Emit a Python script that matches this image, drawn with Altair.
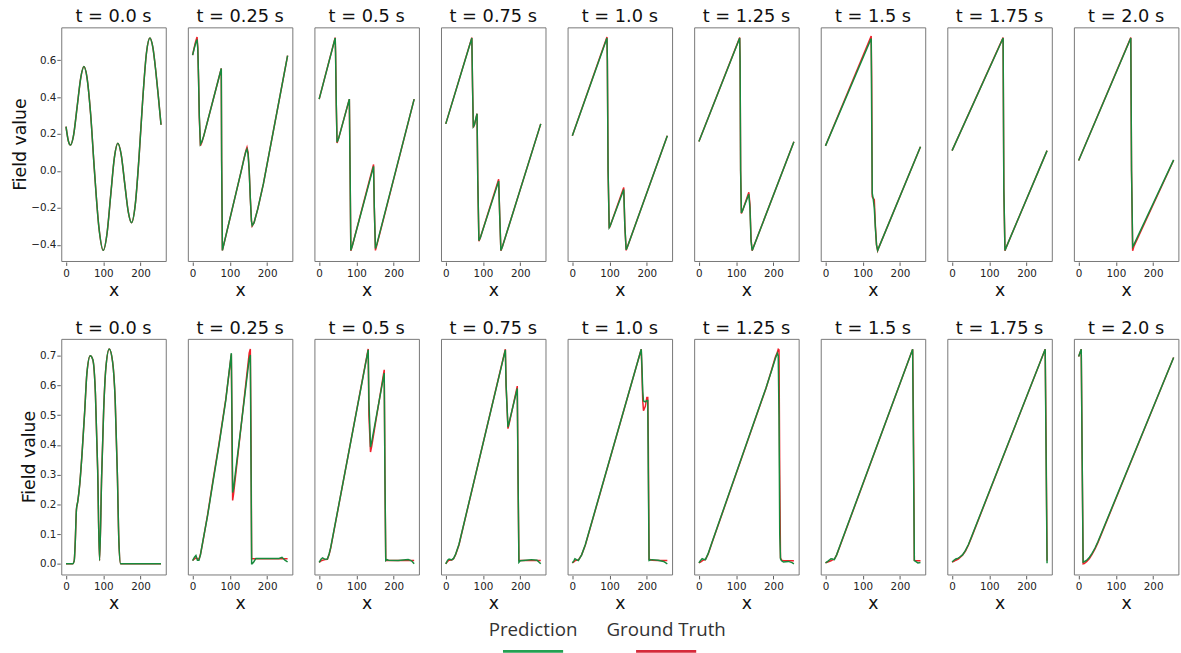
import altair as alt
import pandas as pd

# ---------------- data ----------------
TIMES = ["0.0", "0.25", "0.5", "0.75", "1.0", "1.25", "1.5", "1.75", "2.0"]

# ---- top row ----
top_00_x = [0, 6, 12, 20, 30, 40, 48, 56, 66, 76, 88, 100, 110, 120, 130, 139, 148, 158, 167, 176, 186, 196, 206, 216, 225, 233, 241, 248, 255]
top_00_pred = [0.24, 0.165, 0.14, 0.19, 0.35, 0.51, 0.565, 0.51, 0.31, 0.01, -0.30, -0.43, -0.34, -0.13, 0.075, 0.15, 0.09, -0.075, -0.22, -0.28, -0.18, 0.075, 0.39, 0.64, 0.72, 0.67, 0.54, 0.40, 0.25]
top_00_true = list(top_00_pred)

top_025_x = [0, 4, 8, 12, 14, 16, 18, 21, 25, 30, 77, 78, 80, 130, 138, 143, 146, 149, 152, 155, 158, 160, 165, 175, 190, 255]
top_025_pred = [0.627, 0.66, 0.69, 0.712, 0.66, 0.5, 0.3, 0.145, 0.16, 0.19, 0.555, 0.05, -0.43, -0.005, 0.065, 0.105, 0.118, 0.09, 0.0, -0.15, -0.27, -0.295, -0.28, -0.205, -0.07, 0.625]
top_025_true = [0.627, 0.665, 0.70, 0.725, 0.67, 0.5, 0.29, 0.137, 0.155, 0.19, 0.555, 0.05, -0.43, -0.005, 0.068, 0.11, 0.128, 0.10, 0.0, -0.15, -0.27, -0.298, -0.28, -0.205, -0.07, 0.625]

top_05_x = [0, 43, 44, 46, 48, 52, 81, 83, 85, 89, 146, 148, 151, 155, 255]
top_05_pred = [0.389, 0.72, 0.64, 0.35, 0.155, 0.175, 0.389, 0.0, -0.43, -0.405, 0.025, -0.2, -0.42, -0.395, 0.389]
top_05_true = [0.389, 0.722, 0.64, 0.35, 0.152, 0.175, 0.389, 0.0, -0.432, -0.405, 0.035, -0.2, -0.43, -0.40, 0.389]

top_075_x = [0, 70, 72, 74, 77, 84, 86, 89, 93, 142, 145, 148, 152, 255]
top_075_pred = [0.255, 0.72, 0.45, 0.24, 0.25, 0.31, -0.05, -0.377, -0.36, -0.055, -0.25, -0.43, -0.41, 0.255]
top_075_true = [0.255, 0.722, 0.45, 0.235, 0.25, 0.31, -0.05, -0.38, -0.36, -0.045, -0.25, -0.432, -0.41, 0.255]

top_10_x = [0, 93, 94, 96, 99, 102, 138, 141, 144.5, 148, 255]
top_10_pred = [0.19, 0.72, 0.6, 0.0, -0.306, -0.295, -0.10, -0.3, -0.427, -0.41, 0.19]
top_10_true = [0.19, 0.725, 0.6, 0.0, -0.31, -0.295, -0.09, -0.3, -0.43, -0.41, 0.19]

top_125_x = [0, 109.5, 110.5, 112, 114, 117, 134, 137, 140, 143, 146, 255]
top_125_pred = [0.159, 0.72, 0.6, 0.0, -0.227, -0.215, -0.126, -0.2, -0.38, -0.43, -0.415, 0.158]
top_125_true = [0.159, 0.722, 0.6, 0.0, -0.23, -0.215, -0.115, -0.18, -0.37, -0.432, -0.415, 0.158]

top_15_x = [0, 122.7, 124, 125.5, 128, 131, 134, 137, 140, 143, 255]
top_15_pred = [0.136, 0.717, 0.3, -0.12, -0.15, -0.2, -0.31, -0.40, -0.43, -0.415, 0.131]
top_15_true = [0.136, 0.73, 0.5, -0.14, -0.148, -0.155, -0.3, -0.40, -0.432, -0.415, 0.131]

top_175_x = [0, 137, 139, 142, 145, 255]
top_175_pred = [0.11, 0.72, -0.1, -0.43, -0.415, 0.11]
top_175_true = [0.11, 0.722, -0.1, -0.432, -0.415, 0.11]

top_20_x = [0, 140, 142, 145, 148, 255]
top_20_pred = [0.057, 0.72, 0.0, -0.41, -0.40, 0.06]
top_20_true = [0.057, 0.722, 0.0, -0.432, -0.41, 0.058]

# ---- bottom row ----
bot_00_x = [0, 18, 22, 25, 28, 31.6, 37, 43, 50, 56, 65, 72, 79, 85, 90, 95.6, 101, 107, 116, 125, 132, 138, 142, 146.5, 150, 255]
bot_00_pred = [0, 0, 0.01, 0.08, 0.183, 0.21, 0.27, 0.37, 0.51, 0.64, 0.70, 0.687, 0.57, 0.315, 0.011, 0.293, 0.515, 0.66, 0.723, 0.68, 0.55, 0.293, 0.072, 0.0, 0, 0]
bot_00_true = list(bot_00_pred)

bot_025_x = [0, 5, 9, 13, 17, 21, 27, 40, 54, 71, 89, 104, 106, 107.5, 110, 152, 155, 157, 158.5, 160, 164, 170, 232, 240, 248, 255]
bot_025_pred = [0.011, 0.022, 0.028, 0.012, 0.012, 0.03, 0.072, 0.16, 0.27, 0.40, 0.55, 0.709, 0.45, 0.24, 0.255, 0.69, 0.703, 0.3, 0.0, 0.0, 0.006, 0.018, 0.018, 0.022, 0.012, 0.006]
bot_025_true = [0.011, 0.016, 0.02, 0.017, 0.016, 0.03, 0.07, 0.163, 0.275, 0.405, 0.553, 0.705, 0.4, 0.213, 0.235, 0.71, 0.723, 0.4, 0.017, 0.017, 0.017, 0.017, 0.017, 0.017, 0.017, 0.017]

bot_05_x = [0, 5, 9, 16, 22, 26.7, 31, 131.6, 133.5, 137.8, 141, 174.6, 176.5, 178.7, 182, 186, 212, 239, 248, 255]
bot_05_pred = [0.005, 0.015, 0.02, 0.015, 0.016, 0.033, 0.055, 0.72, 0.55, 0.393, 0.41, 0.642, 0.3, 0.011, 0.014, 0.012, 0.011, 0.014, 0.01, 0.0]
bot_05_true = [0.005, 0.01, 0.012, 0.014, 0.015, 0.031, 0.053, 0.723, 0.5, 0.376, 0.395, 0.653, 0.3, 0.011, 0.011, 0.011, 0.011, 0.011, 0.011, 0.011]

bot_075_x = [0, 5, 9, 16, 21, 26.7, 35.6, 160, 162, 167, 170, 192, 194, 196.4, 200, 215, 230, 245, 255]
bot_075_pred = [0.0, 0.012, 0.016, 0.013, 0.018, 0.033, 0.066, 0.72, 0.6, 0.46, 0.475, 0.59, 0.3, 0.005, 0.01, 0.012, 0.014, 0.012, 0.0]
bot_075_true = [0.0, 0.008, 0.012, 0.013, 0.017, 0.031, 0.064, 0.722, 0.6, 0.455, 0.47, 0.598, 0.3, 0.011, 0.011, 0.011, 0.011, 0.011, 0.011]

bot_10_x = [0, 4, 7, 11, 16, 25, 35, 185, 187, 189, 191, 196, 200, 202.5, 204, 206, 214, 230, 245, 252, 255]
bot_10_pred = [0.003, 0.01, 0.017, 0.014, 0.011, 0.03, 0.065, 0.722, 0.66, 0.58, 0.548, 0.545, 0.55, 0.55, 0.3, 0.011, 0.014, 0.012, 0.008, 0.002, 0.0]
bot_10_true = [0.003, 0.006, 0.01, 0.012, 0.012, 0.03, 0.063, 0.722, 0.64, 0.55, 0.515, 0.53, 0.56, 0.56, 0.4, 0.015, 0.012, 0.011, 0.011, 0.011, 0.011]

bot_125_x = [0, 4, 8.8, 13, 17.5, 25, 35, 180, 195, 205, 210.5, 213, 215, 217, 219, 222, 227, 240, 250, 255]
bot_125_pred = [0.003, 0.01, 0.017, 0.015, 0.014, 0.035, 0.072, 0.592, 0.65, 0.69, 0.709, 0.7, 0.5, 0.1, 0.017, 0.01, 0.006, 0.008, 0.004, 0.0]
bot_125_true = [0.003, 0.006, 0.01, 0.013, 0.014, 0.033, 0.07, 0.59, 0.652, 0.695, 0.712, 0.722, 0.72, 0.3, 0.02, 0.012, 0.01, 0.01, 0.01, 0.01]

bot_15_x = [0, 6, 14.8, 19, 23.6, 30, 40, 234, 236, 238.5, 242, 248, 255]
bot_15_pred = [0.003, 0.008, 0.017, 0.016, 0.014, 0.03, 0.065, 0.722, 0.4, 0.011, 0.008, 0.003, 0.004]
bot_15_true = [0.003, 0.006, 0.01, 0.013, 0.015, 0.03, 0.063, 0.722, 0.5, 0.012, 0.01, 0.01, 0.01]

bot_175_x = [0, 5, 10, 16.6, 20, 28, 36, 44, 52, 250, 252.5, 255]
bot_175_pred = [0.006, 0.012, 0.016, 0.019, 0.022, 0.03, 0.045, 0.065, 0.09, 0.722, 0.35, 0.002]
bot_175_true = [0.006, 0.008, 0.012, 0.016, 0.02, 0.029, 0.043, 0.063, 0.088, 0.722, 0.4, 0.01]

bot_20_x = [0, 7, 9.5, 12, 15, 22, 29, 36, 44, 52, 255]
bot_20_pred = [0.698, 0.722, 0.35, 0.006, 0.007, 0.012, 0.022, 0.035, 0.053, 0.075, 0.694]
bot_20_true = [0.698, 0.722, 0.35, 0.0, 0.001, 0.008, 0.018, 0.032, 0.05, 0.072, 0.694]

TOP_PANELS = [
    (top_00_x, top_00_pred, top_00_true), (top_025_x, top_025_pred, top_025_true),
    (top_05_x, top_05_pred, top_05_true), (top_075_x, top_075_pred, top_075_true),
    (top_10_x, top_10_pred, top_10_true), (top_125_x, top_125_pred, top_125_true),
    (top_15_x, top_15_pred, top_15_true), (top_175_x, top_175_pred, top_175_true),
    (top_20_x, top_20_pred, top_20_true),
]
BOT_PANELS = [
    (bot_00_x, bot_00_pred, bot_00_true), (bot_025_x, bot_025_pred, bot_025_true),
    (bot_05_x, bot_05_pred, bot_05_true), (bot_075_x, bot_075_pred, bot_075_true),
    (bot_10_x, bot_10_pred, bot_10_true), (bot_125_x, bot_125_pred, bot_125_true),
    (bot_15_x, bot_15_pred, bot_15_true), (bot_175_x, bot_175_pred, bot_175_true),
    (bot_20_x, bot_20_pred, bot_20_true),
]

TOP_YTICKS = [-0.4, -0.2, 0.0, 0.2, 0.4, 0.6]
BOT_YTICKS = [0.0, 0.1, 0.2, 0.3, 0.4, 0.5, 0.6, 0.7]
X_TICKS = [0, 100, 200]

SERIES = ["Prediction", "Ground Truth"]
LINE_GREEN = "#178a3c"
LINE_RED = "#f0202a"
LEG_GREEN = "#23a052"
LEG_RED = "#d62a3a"

FONT = "DejaVu Sans"
PANEL_W = 106
SPACING = 20.4
LABELS = [f"t = {t} s" for t in TIMES]


def make_df(panels):
    rows = []
    for t_label, (xs, pred, true) in zip(LABELS, panels):
        smooth = t_label == LABELS[0]
        for x, p, g in zip(xs, pred, true):
            rows.append({"t": t_label, "x": x, "value": g, "series": "Ground Truth", "smooth": smooth})
            rows.append({"t": t_label, "x": x, "value": p, "series": "Prediction", "smooth": smooth})
    return pd.DataFrame(rows)


def make_row(panels, ydomain, yticks, height):
    df = make_df(panels)
    base = alt.Chart().encode(
        x=alt.X("x:Q", scale=alt.Scale(domain=[-12.75, 267.75], nice=False, zero=False),
                axis=alt.Axis(values=X_TICKS, title="x")),
        y=alt.Y("value:Q", scale=alt.Scale(domain=ydomain, nice=False, zero=False),
                axis=alt.Axis(values=yticks, format=".1f", title="Field value")),
    )
    layers = [
        base.transform_filter("datum.series == 'Ground Truth' && !datum.smooth")
            .mark_line(color=LINE_RED, strokeWidth=1.5),
        base.transform_filter("datum.series == 'Ground Truth' && datum.smooth")
            .mark_line(color=LINE_RED, strokeWidth=1.5, interpolate="monotone"),
        base.transform_filter("datum.series == 'Prediction' && !datum.smooth")
            .mark_line(color=LINE_GREEN, strokeWidth=1.5),
        base.transform_filter("datum.series == 'Prediction' && datum.smooth")
            .mark_line(color=LINE_GREEN, strokeWidth=1.5, interpolate="monotone"),
    ]
    return alt.layer(*layers, data=df).properties(width=PANEL_W, height=height).facet(
        column=alt.Column("t:N", sort=LABELS, title=None,
                          header=alt.Header(labelFont=FONT, labelFontSize=18, labelColor="#111111",
                                            labelPadding=0)),
        spacing=SPACING,
    )


top = make_row(TOP_PANELS, [-0.4875, 0.7775], TOP_YTICKS, 237)
bottom = make_row(BOT_PANELS, [-0.036, 0.757], BOT_YTICKS, 239)

# ---- custom legend: label above a short coloured line ----
leg_df = pd.DataFrame({"series": SERIES, "color": [LEG_GREEN, LEG_RED]})
leg_base = alt.Chart(leg_df).encode(
    x=alt.X("series:N", sort=SERIES, axis=None,
            scale=alt.Scale(paddingInner=0, paddingOuter=1, align=0.424)),
)
leg_text = leg_base.mark_text(font="Open Sans", fontSize=19, color="#333333",
                              baseline="alphabetic").encode(text="series:N", y=alt.value(16))
leg_line = leg_base.mark_tick(orient="horizontal", thickness=3, size=61, opacity=1).encode(
    y=alt.value(32), color=alt.Color("color:N", scale=None))
legend = alt.layer(leg_text, leg_line).properties(
    width=540, height=35, view=alt.ViewBackground(stroke="transparent"))

rows = alt.vconcat(top, bottom, spacing=21)
chart = alt.vconcat(rows, legend, spacing=6, center=True).properties(
    padding={"left": 12, "top": 4, "right": 2, "bottom": 0},
    background="white",
).configure_view(stroke="#777777", strokeWidth=1).configure_axis(
    labelFont=FONT, labelFontSize=10.5, labelColor="#222222",
    tickColor="#333333", tickSize=3.5, tickWidth=0.8,
    domain=False, grid=False,
    titleFont=FONT, titleFontSize=17.5, titleFontWeight="normal", titleColor="#111111",
).configure_axisX(labelPadding=3, titlePadding=3).configure_axisY(labelPadding=1, titlePadding=1)

chart.save("out.html", embed_options={"renderer": "svg", "actions": False})
